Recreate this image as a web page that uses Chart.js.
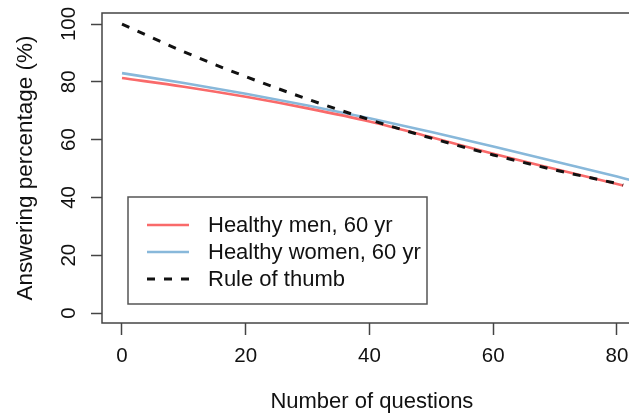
<!DOCTYPE html>
<html>
<head>
<meta charset="utf-8">
<script src="https://cdn.jsdelivr.net/npm/chart.js@4/dist/chart.umd.min.js"></script>
<style>
html, body { margin: 0; padding: 0; overflow: hidden; background: #fff; }
canvas { display: block; }
</style>
</head>
<body>
<canvas id="myChart" width="660" height="417"></canvas>
<script>
// values
const questions = [0, 10, 20, 30, 40, 50, 60, 70, 80, 81];
const menValues = [81.3, 78.3, 74.8, 70.8, 66.3, 60.8, 55.1, 49.8, 44.6, 44.1];
const womenQuestions = [0, 10, 20, 30, 40, 50, 60, 70, 80, 82];
const womenValues = [83.0, 79.6, 75.9, 71.8, 67.4, 62.6, 57.6, 52.4, 47.2, 46.1];
const thumbValues = [100, 90.4, 81.8, 74.0, 66.9, 60.5, 54.7, 49.5, 44.8, 44.3];
const xTicks = [0, 20, 40, 60, 80];
const yTicks = [0, 20, 40, 60, 80, 100];

const FONT = '"Liberation Sans", Arial, Helvetica, sans-serif';
const AXIS_COLOR = '#444';
const TEXT_COLOR = '#111';

function points(xs, ys) {
    return xs.map((x, i) => ({ x: x, y: ys[i] }));
}

// box, rotated y labels and the legend, drawn R style
const rPlot = {
    id: 'rPlot',
    afterDraw(chart) {
        const { ctx, chartArea: a, scales: { y } } = chart;
        ctx.save();
        ctx.strokeStyle = AXIS_COLOR;
        ctx.lineWidth = 1.5;
        ctx.strokeRect(a.left, a.top, a.right - a.left, a.bottom - a.top);

        ctx.fillStyle = TEXT_COLOR;
        ctx.font = '20.5px ' + FONT;
        ctx.textAlign = 'center';
        ctx.textBaseline = 'middle';
        yTicks.forEach(v => {
            ctx.save();
            ctx.translate(a.left - 33, y.getPixelForValue(v));
            ctx.rotate(-Math.PI / 2);
            ctx.fillText(String(v), 0, 0);
            ctx.restore();
        });

        // legend (bottom left inside the plot)
        const lx = 128, ly = 197, lw = 299, lh = 107;
        ctx.fillStyle = '#fff';
        ctx.fillRect(lx, ly, lw, lh);
        ctx.strokeStyle = '#555';
        ctx.lineWidth = 1.5;
        ctx.strokeRect(lx, ly, lw, lh);
        ctx.font = '22px ' + FONT;
        ctx.textAlign = 'left';
        chart.data.datasets.forEach((ds, i) => {
            const yy = ly + 28 + i * 27;
            ctx.strokeStyle = ds.borderColor;
            ctx.lineWidth = ds.borderWidth;
            ctx.setLineDash(ds.borderDash || []);
            ctx.beginPath();
            ctx.moveTo(lx + 19, yy);
            ctx.lineTo(lx + 61, yy);
            ctx.stroke();
            ctx.setLineDash([]);
            ctx.fillStyle = TEXT_COLOR;
            ctx.fillText(ds.label, lx + 80, yy + 1);
        });
        ctx.restore();
    }
};

const ctx = document.getElementById('myChart').getContext('2d');
new Chart(ctx, {
    type: 'line',
    data: {
        datasets: [{
            label: 'Healthy men, 60 yr',
            data: points(questions, menValues),
            borderColor: '#f96a6a',
            borderWidth: 2.6,
            order: 1
        }, {
            label: 'Healthy women, 60 yr',
            data: points(womenQuestions, womenValues),
            borderColor: '#88b8da',
            borderWidth: 2.6,
            order: 2
        }, {
            label: 'Rule of thumb',
            data: points(questions, thumbValues),
            borderColor: '#111',
            borderWidth: 3,
            borderDash: [8, 9],
            order: 0
        }]
    },
    options: {
        responsive: false,
        animation: false,
        layout: { padding: { top: 13, right: 18.25, bottom: 0, left: 0 } },
        elements: {
            point: { radius: 0 },
            line: { fill: false, cubicInterpolationMode: 'monotone' }
        },
        plugins: {
            legend: { display: false },
            tooltip: { enabled: false }
        },
        scales: {
            x: {
                type: 'linear',
                min: -3.232,
                max: 84,
                afterBuildTicks: s => { s.ticks = xTicks.map(v => ({ value: v })); },
                afterFit: s => { s.height = 94; },
                border: { display: false },
                grid: {
                    drawOnChartArea: false,
                    drawTicks: true,
                    tickLength: 12,
                    tickColor: AXIS_COLOR,
                    tickWidth: 1.5
                },
                ticks: {
                    color: TEXT_COLOR,
                    font: { family: FONT, size: 20.5 },
                    padding: 9,
                    maxRotation: 0
                },
                title: {
                    display: true,
                    text: 'Number of questions',
                    color: TEXT_COLOR,
                    font: { family: FONT, size: 22 },
                    padding: { top: 0, bottom: 2 }
                }
            },
            y: {
                type: 'linear',
                min: -3.46,
                max: 103.81,
                afterBuildTicks: s => { s.ticks = yTicks.map(v => ({ value: v })); },
                afterFit: s => { s.width = 102; },
                border: { display: false },
                grid: {
                    drawOnChartArea: false,
                    drawTicks: true,
                    tickLength: 11,
                    tickColor: AXIS_COLOR,
                    tickWidth: 1.5
                },
                ticks: { display: false },
                title: {
                    display: true,
                    text: 'Answering percentage (%)',
                    color: TEXT_COLOR,
                    font: { family: FONT, size: 22.5 },
                    padding: { top: 12, bottom: 0 }
                }
            }
        }
    },
    plugins: [rPlot]
});
</script>
</body>
</html>
